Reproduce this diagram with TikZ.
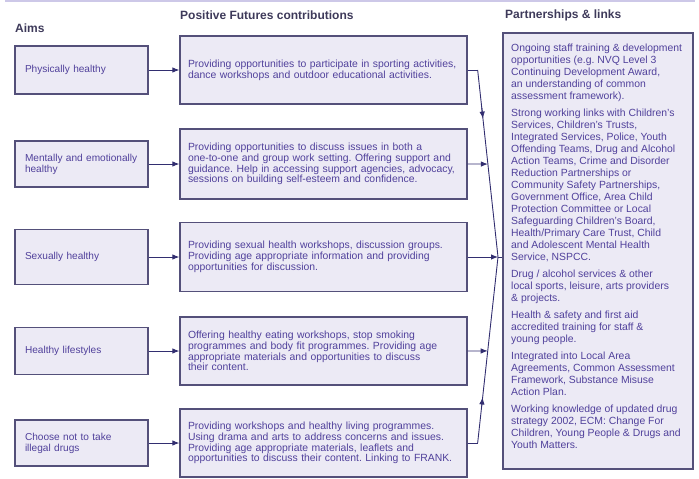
\documentclass[tikz,border=0pt]{standalone}
\usepackage{fontspec}
\setmainfont{Liberation Sans}
\usetikzlibrary{arrows.meta,calc}
\frenchspacing
\definecolor{boxfill}{RGB}{236,234,245}
\definecolor{boxline}{RGB}{84,80,122}
\definecolor{txt}{RGB}{80,64,155}
\definecolor{head}{RGB}{62,58,90}
\definecolor{link}{RGB}{50,46,112}
\definecolor{toprule}{RGB}{205,200,232}
\begin{document}
\begin{tikzpicture}[x=1pt,y=-1pt,
  panel/.style={rectangle,draw=boxline,line width=1.3pt,fill=boxfill,text=txt,align=left},
  aimbox/.style={panel,minimum width=133pt,text width=113pt,inner xsep=10pt,inner ysep=0pt,
    font=\fontsize{10.1pt}{11pt}\selectfont},
  workbox/.style={panel,minimum width=287pt,text width=271pt,inner xsep=8pt,inner ysep=0pt,
    font=\fontsize{10.4pt}{10.8pt}\selectfont},
  heading/.style={anchor=west,text=head,inner sep=0pt,font=\bfseries\fontsize{12pt}{14pt}\selectfont},
  wire/.style={draw=link,line width=0.9pt},
  tip/.style={-{Latex[length=7pt,width=5.5pt]}}]

\useasboundingbox (0,0) rectangle (699,479);
\draw[toprule,line width=1.4pt] (5,1) -- (695,1);

% column headings
\node[heading] (hAims) at (15,28) {Aims};
\node[heading] (hWork) at (180,15) {Positive Futures contributions};
\node[heading] (hLinks) at (505,15) {Partnerships \& links};

% aims
\node[aimbox,minimum height=48pt] (A1) at (81.5,70) {Physically healthy};
\node[aimbox,minimum height=46pt] (A2) at (81.5,164) {Mentally and emotionally\\healthy};
\node[aimbox,minimum height=55pt] (A3) at (81.5,257) {Sexually healthy};
\node[aimbox,minimum height=47pt] (A4) at (81.5,351) {Healthy lifestyles};
\node[aimbox,minimum height=46pt] (A5) at (81.5,443) {Choose not to take\\illegal drugs};

% contributions
\node[workbox,minimum height=68pt] (C1) at (323.5,70)
  {Providing opportunities to participate in sporting activities,\\dance workshops and outdoor educational activities.};
\node[workbox,minimum height=70pt] (C2) at (323.5,164)
  {Providing opportunities to discuss issues in both a\\one-to-one and group work setting. Offering support and\\guidance. Help in accessing support agencies, advocacy,\\sessions on building self-esteem and confidence.};
\node[workbox,minimum height=69pt] (C3) at (323.5,257)
  {Providing sexual health workshops, discussion groups.\\Providing age appropriate information and providing\\opportunities for discussion.};
\node[workbox,minimum height=68pt] (C4) at (323.5,351)
  {Offering healthy eating workshops, stop smoking\\programmes and body fit programmes. Providing age\\appropriate materials and opportunities to discuss\\their content.};
\node[workbox,minimum height=68pt] (C5) at (323.5,443)
  {Providing workshops and healthy living programmes.\\Using drama and arts to address concerns and issues.\\Providing age appropriate materials, leaflets and\\opportunities to discuss their content. Linking to FRANK.};

% partnerships panel
\node[panel,minimum width=190pt,minimum height=436pt,line width=1.5pt] (R) at (598,251) {};
\node[anchor=north west,inner sep=0pt,text=txt,align=left,
  font=\fontsize{10.4pt}{12pt}\selectfont] (Rtext) at (511,44)
  {Ongoing staff training \& development\\opportunities (e.g. NVQ Level 3\\Continuing Development Award,\\an understanding of common\\assessment framework).\\[5pt]
   Strong working links with Children's\\Services, Children's Trusts,\\Integrated Services, Police, Youth\\Offending Teams, Drug and Alcohol\\Action Teams, Crime and Disorder\\Reduction Partnerships or\\Community Safety Partnerships,\\Government Office, Area Child\\Protection Committee or Local\\Safeguarding Children's Board,\\Health/Primary Care Trust, Child\\and Adolescent Mental Health\\Service, NSPCC.\\[5pt]
   Drug / alcohol services \& other\\local sports, leisure, arts providers\\\& projects.\\[5pt]
   Health \& safety and first aid\\accredited training for staff \&\\young people.\\[5pt]
   Integrated into Local Area\\Agreements, Common Assessment\\Framework, Substance Misuse\\Action Plan.\\[5pt]
   Working knowledge of updated drug\\strategy 2002, ECM: Change For\\Children, Young People \& Drugs and\\Youth Matters.};

% aims to contributions
\foreach \i in {1,...,5}{\draw[wire,tip] (A\i.east) -- (C\i.west);}

% contributions converging on the partnerships panel
\coordinate (k1) at ($(C1.east)+(10,0)$);
\coordinate (k5) at ($(C5.east)+(10,0)$);
\coordinate (J) at (498,257);
\draw[wire] (C1.east) -- (k1);
\draw[wire,tip] (k1) -- ($(k1)!0.26!(J)$);
\draw[wire] ($(k1)!0.2!(J)$) -- (J);
\draw[wire,tip] (C2.east) -- ($(k1)!0.503!(J)$);
\draw[wire,tip] (C3.east) -- (J);
\draw[wire] (J) -- (C3.east -| R.west);
\draw[wire,tip] (C4.east) -- ($(k5)!0.495!(J)$);
\draw[wire] (C5.east) -- (k5);
\draw[wire,tip] (k5) -- ($(k5)!0.245!(J)$);
\draw[wire] ($(k5)!0.2!(J)$) -- (J);
\end{tikzpicture}
\end{document}
